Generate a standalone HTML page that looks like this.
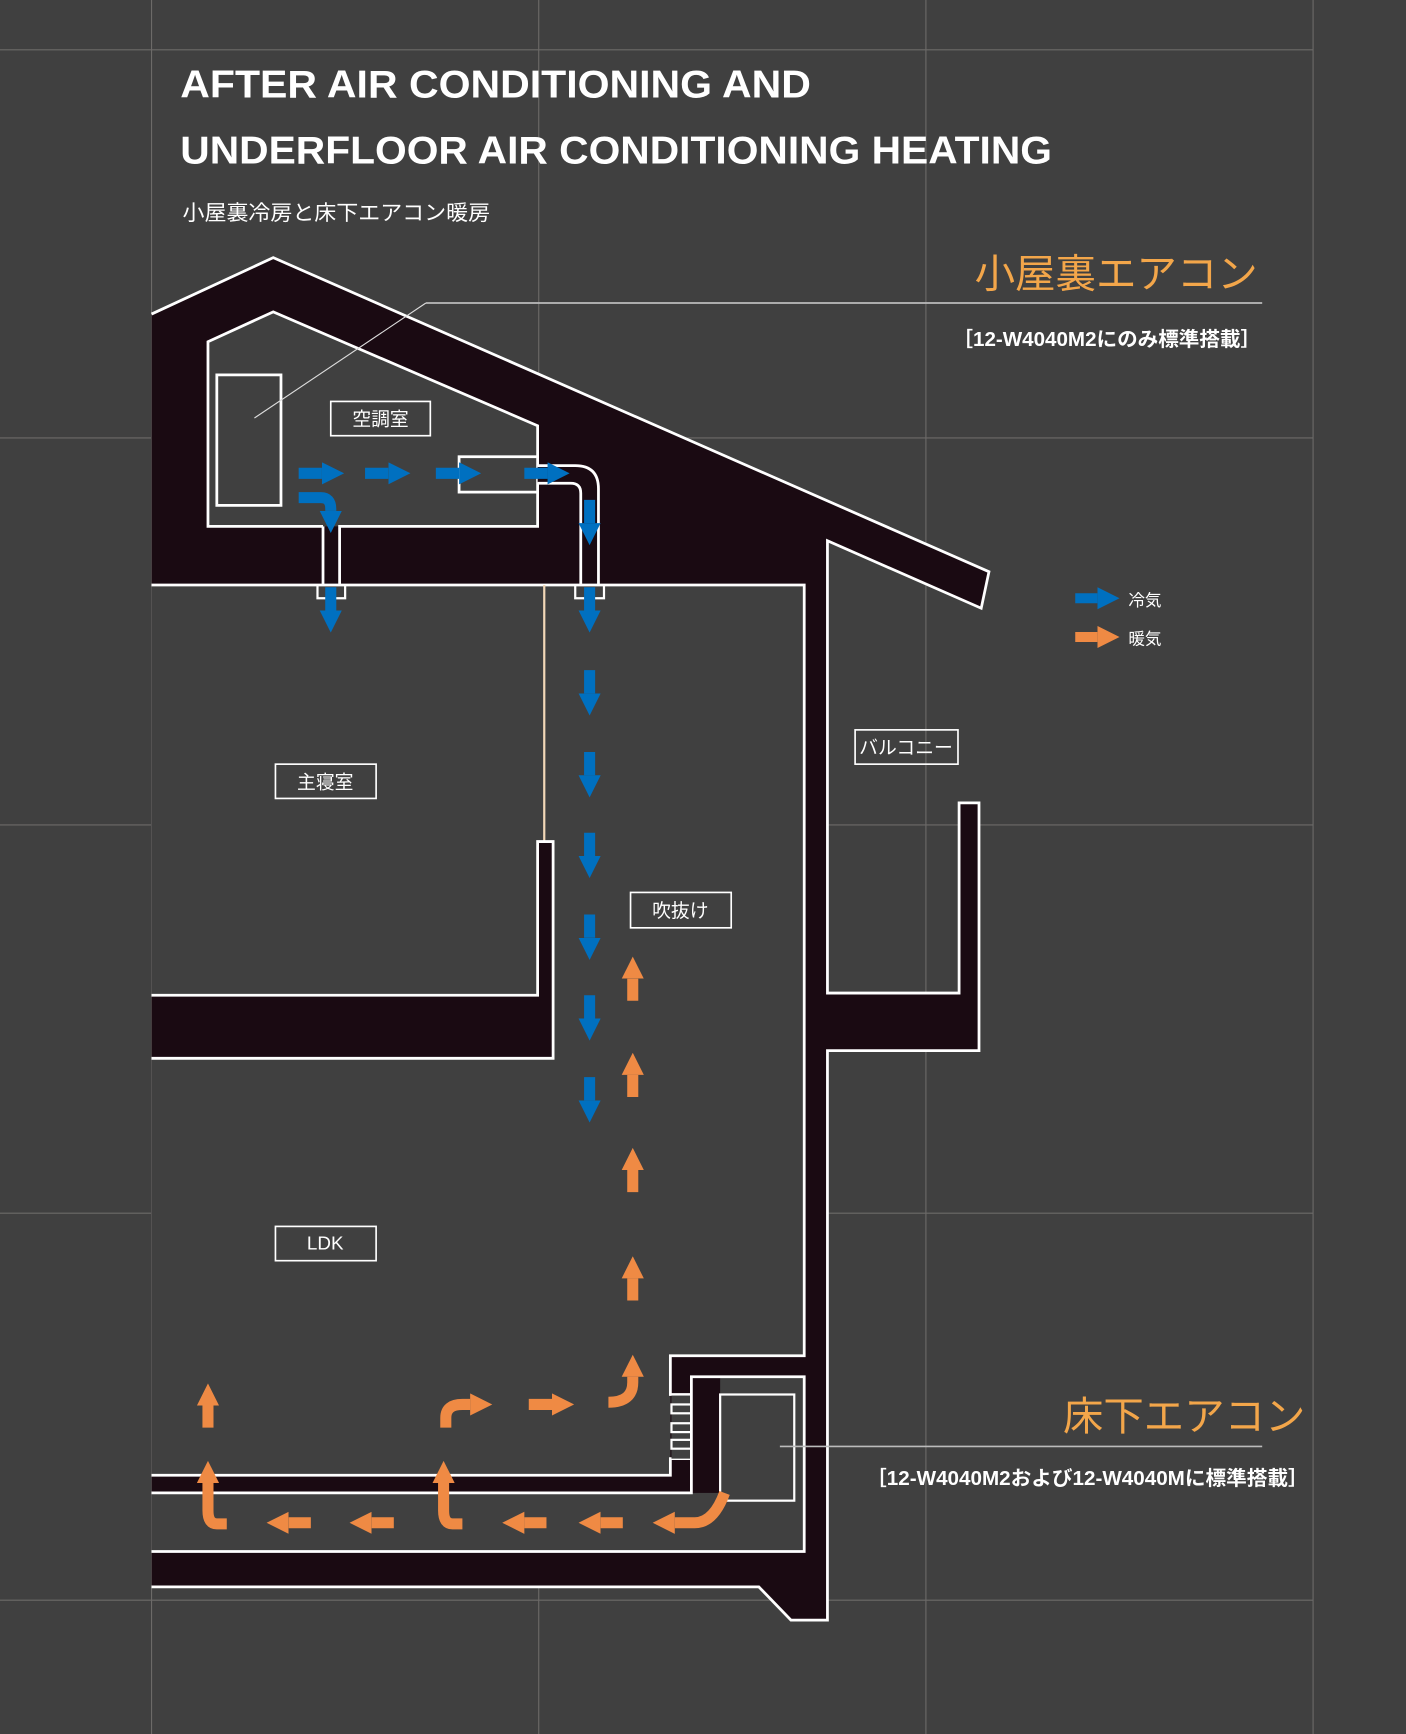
<!DOCTYPE html>
<html><head><meta charset="utf-8"><style>
html,body{margin:0;padding:0;background:#404040;}
svg{display:block;}
text{font-family:"Liberation Sans","Noto Sans CJK JP",sans-serif;}
</style></head><body>
<svg width="1406" height="1734" viewBox="0 0 1271 1568" preserveAspectRatio="none" xmlns="http://www.w3.org/2000/svg">
<defs>
<marker id="hb" viewBox="0 0 20 20" refX="0" refY="10" markerWidth="20" markerHeight="20" markerUnits="userSpaceOnUse" orient="auto"><path d="M0 0L20 10L0 20Z" fill="#0070c0"/></marker>
<marker id="ho" viewBox="0 0 20 20" refX="0" refY="10" markerWidth="20" markerHeight="20" markerUnits="userSpaceOnUse" orient="auto"><path d="M0 0L20 10L0 20Z" fill="#ef8a44"/></marker>
</defs>
<rect width="1271" height="1568" fill="#404040"/>
<g stroke="#6c6a68" stroke-width="1">
<line x1="137" y1="0" x2="137" y2="1568"/><line x1="487" y1="0" x2="487" y2="1568"/><line x1="837" y1="0" x2="837" y2="1568"/><line x1="1187" y1="0" x2="1187" y2="1568"/>
<line x1="0" y1="45" x2="1187" y2="45"/><line x1="0" y1="396" x2="1187" y2="396"/><line x1="0" y1="746" x2="1187" y2="746"/><line x1="0" y1="1097" x2="1187" y2="1097"/><line x1="0" y1="1447" x2="1187" y2="1447"/>
</g>
<text x="163" y="88" fill="#fff" font-size="35" font-weight="bold" textLength="570" lengthAdjust="spacingAndGlyphs">AFTER AIR CONDITIONING AND</text>
<text x="163" y="148" fill="#fff" font-size="35" font-weight="bold" textLength="788" lengthAdjust="spacingAndGlyphs">UNDERFLOOR AIR CONDITIONING HEATING</text>
<text x="165" y="199" fill="#fff" font-size="19" textLength="278" lengthAdjust="spacingAndGlyphs">小屋裏冷房と床下エアコン暖房</text>

<!-- building -->
<path d="M137 284L247 233L894 517L887 550L748 489L748 898L867 898L867 726L885 726L885 950L748 950L748 1465L715 1465L686 1435L137 1435Z" fill="#1a0a12"/>
<path d="M137 284L247 233L894 517L887 550L748 489L748 898L867 898L867 726L885 726L885 950L748 950L748 1465L715 1465L686 1435L137 1435" fill="none" stroke="#fff" stroke-width="2.5"/>
<!-- attic -->
<path d="M188 309L247 282L486 385L486 476L188 476Z" fill="#404040"/>
<path d="M292 476H188V309L247 282L486 385V413M486 445V476H307V529M292 476V529" fill="none" stroke="#fff" stroke-width="2.5"/>
<rect x="415" y="413" width="71" height="32" fill="#404040" stroke="#fff" stroke-width="2.5"/>
<rect x="486" y="421" width="40" height="16" fill="#1a0a12"/>
<path d="M486 421H520Q541 421 541 442V529M486 437H516Q525 437 525 446V529" fill="none" stroke="#fff" stroke-width="2.5"/>
<rect x="196" y="339" width="58" height="118" fill="none" stroke="#fff" stroke-width="2.5"/>
<line x1="230" y1="378" x2="385" y2="274" stroke="#ddd" stroke-width="1"/>
<line x1="385" y1="274" x2="1141" y2="274" stroke="#bbb" stroke-width="1.5"/>
<!-- main rooms -->
<path d="M137 529H727V1226H606V1334H137Z" fill="#404040"/>
<path d="M137 529H727V1226H606V1261H625V1245" fill="none" stroke="#fff" stroke-width="2.5"/>
<path d="M137 1334H606V1319H625V1350" fill="none" stroke="#fff" stroke-width="2.5"/>
<rect x="607" y="1262" width="18" height="57" fill="#404040"/>
<g fill="#404040" stroke="#fff" stroke-width="2"><rect x="607" y="1270" width="18" height="8"/><rect x="607" y="1287" width="18" height="8"/><rect x="607" y="1302" width="18" height="8"/></g>
<path d="M287 529V541H312V529M520 529V541H546V529" fill="none" stroke="#fff" stroke-width="2"/>
<line x1="492" y1="529" x2="492" y2="761" stroke="#f2d8b8" stroke-width="2"/>
<path d="M137 900H486V761H500V957H137" fill="#1a0a12" stroke="#fff" stroke-width="2.5"/>
<!-- underfloor -->
<path d="M137 1350H625V1245H727V1403H137Z" fill="#404040"/>
<rect x="626" y="1246" width="25" height="104" fill="#1a0a12"/>
<path d="M137 1350H625V1245H727V1403H137" fill="none" stroke="#fff" stroke-width="2.5"/>
<rect x="651" y="1261" width="67" height="96" fill="none" stroke="#fff" stroke-width="2"/>
<line x1="705" y1="1308" x2="1141" y2="1308" stroke="#bbb" stroke-width="1.5"/>

<!-- labels -->
<g fill="none" stroke="#fff" stroke-width="1.5">
<rect x="299" y="363" width="90" height="31"/><rect x="249" y="691" width="91" height="31"/><rect x="570" y="807" width="91" height="32"/><rect x="773" y="660" width="93" height="31"/><rect x="249" y="1109" width="91" height="31"/>
</g>
<g fill="#fff" font-size="17" text-anchor="middle">
<text x="344" y="385">空調室</text><text x="294" y="713">主寝室</text><text x="615" y="829">吹抜け</text><text x="819" y="682">バルコニー</text><text x="294" y="1130">LDK</text>
</g>
<text x="1137" y="260" fill="#f3a64a" font-size="36" text-anchor="end" textLength="256" lengthAdjust="spacingAndGlyphs">小屋裏エアコン</text>
<text x="861" y="313" fill="#fff" font-size="18" font-weight="bold" textLength="279" lengthAdjust="spacingAndGlyphs">［12-W4040M2にのみ標準搭載］</text>
<text x="1180" y="1293" fill="#f3a64a" font-size="36" text-anchor="end" textLength="219" lengthAdjust="spacingAndGlyphs">床下エアコン</text>
<text x="783" y="1343" fill="#fff" font-size="18" font-weight="bold" textLength="400" lengthAdjust="spacingAndGlyphs">［12-W4040M2および12-W4040Mに標準搭載］</text>

<!-- legend -->
<path d="M972 541H992" stroke="#0070c0" stroke-width="9" marker-end="url(#hb)"/>
<path d="M972 576H992" stroke="#ef8a44" stroke-width="9" marker-end="url(#ho)"/>
<text x="1020" y="548" fill="#fff" font-size="15">冷気</text>
<text x="1020" y="583" fill="#fff" font-size="15">暖気</text>

<!-- blue arrows -->
<g fill="none" stroke="#0070c0" stroke-width="10" marker-end="url(#hb)">
<path d="M270 428H291"/><path d="M330 428H351"/><path d="M394 428H415"/><path d="M474 428H495"/>
<path d="M270 450H290Q299 450 299 460V462"/>
<path d="M533 452V473"/><path d="M533 531V552"/><path d="M299 531V552"/>
<path d="M533 606V627"/><path d="M533 680V701"/><path d="M533 753V774"/><path d="M533 827V848"/><path d="M533 900V921"/><path d="M533 974V995"/>
</g>
<!-- orange arrows -->
<g fill="none" stroke="#ef8a44" stroke-width="10" marker-end="url(#ho)">
<path d="M572 905V885"/><path d="M572 992V972"/><path d="M572 1078V1058"/><path d="M572 1176V1156"/>
<path d="M188 1291V1271"/>
<path d="M403 1291V1282Q403 1270 418 1270H425"/>
<path d="M478 1270H499"/>
<path d="M550 1268Q572 1268 572 1250V1245"/>
<path d="M205 1378H196Q188 1378 188 1366V1341"/>
<path d="M418 1378H409Q401 1378 401 1366V1341"/>
<path d="M281 1377H261"/><path d="M356 1377H336"/><path d="M494 1377H474"/><path d="M563 1377H543"/>
<path d="M655 1350Q645 1377 628 1377H610"/>
</g>
</svg>
</body></html>
